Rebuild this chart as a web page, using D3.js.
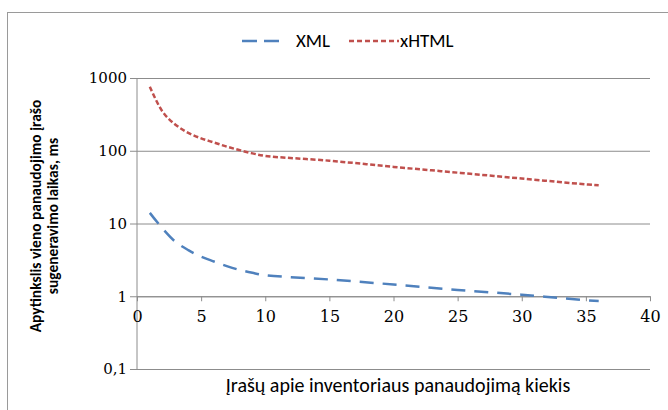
<!DOCTYPE html>
<html>
<head>
<meta charset="utf-8">
<script src="https://cdn.jsdelivr.net/npm/d3@7"></script>
<style>
  body { margin: 0; background: #fff; }
  .grid line { stroke: #8c8c8c; stroke-width: 1; }
  .grid text { font-family: "DejaVu Serif", "Liberation Serif", serif; fill: #000; }
</style>
</head>
<body>
<div class="chart"></div>
<script>

const FRAME_WIDTH = 668;
const FRAME_HEIGHT = 410;
const MARGINS = {left: 137, right: 18, top: 78, bottom: 41};

// data
const X_VALUES = [1, 2, 3, 4, 5, 6, 7, 8, 9, 10, 15, 20, 25, 30, 35, 36];
const XML_VALUES = [14, 8.5, 5.6, 4.3, 3.5, 3.0, 2.6, 2.3, 2.1, 1.95, 1.7, 1.45, 1.22, 1.05, 0.88, 0.86];
const XHTML_VALUES = [760, 343, 228, 176, 148, 130, 114, 102, 92, 85, 73, 60, 50, 41.5, 34.5, 33.5];
const X_TICKS = [0, 5, 10, 15, 20, 25, 30, 35, 40];
const Y_TICKS = [0.1, 1, 10, 100, 1000];
const SERIES_NAMES = ["XML", "xHTML"];

const PLOT_WIDTH = FRAME_WIDTH - MARGINS.left - MARGINS.right;
const PLOT_HEIGHT = FRAME_HEIGHT - MARGINS.top - MARGINS.bottom;
const SANS = "Carlito, 'Liberation Sans', sans-serif";

const FRAME = d3.select(".chart")
    .append("svg")
    .attr("width", FRAME_WIDTH)
    .attr("height", FRAME_HEIGHT);

// outer border of the chart area (runs off the right and bottom)
FRAME.append("rect")
    .attr("x", 7.5).attr("y", 12.5)
    .attr("width", 700).attr("height", 430)
    .attr("fill", "none")
    .attr("stroke", "#9a9a9a");

const X_SCALE = d3.scaleLinear().domain([0, 40]).range([0, PLOT_WIDTH]);
const Y_SCALE = d3.scaleLog().domain([0.1, 1000]).range([PLOT_HEIGHT, 0]);

const G = FRAME.append("g")
    .attr("transform", "translate(" + MARGINS.left + "," + MARGINS.top + ")");

// horizontal gridlines + y labels
const yAxis = G.append("g")
    .attr("class", "grid")
    .call(d3.axisLeft(Y_SCALE)
        .tickValues(Y_TICKS)
        .tickSize(-PLOT_WIDTH)
        .tickSizeOuter(0)
        .tickPadding(10)
        .tickFormat((d) => String(d).replace(".", ",")));
yAxis.attr("font-size", 15);
yAxis.select(".domain").remove();
yAxis.selectAll(".tick line").attr("x1", -7);

// vertical axis line
G.append("line")
    .attr("x1", 0).attr("x2", 0)
    .attr("y1", 0).attr("y2", PLOT_HEIGHT)
    .attr("stroke", "#8c8c8c");

// x axis sits on the value 1
const xAxis = G.append("g")
    .attr("class", "grid")
    .attr("transform", "translate(0," + Y_SCALE(1) + ")")
    .call(d3.axisBottom(X_SCALE)
        .tickValues(X_TICKS)
        .tickSize(5)
        .tickSizeOuter(0)
        .tickPadding(9));
xAxis.attr("font-size", 16);
xAxis.select(".domain").attr("stroke", "#8c8c8c");

const xmlData = X_VALUES.map((x, i) => ({x: x, y: XML_VALUES[i]}));
const xhtmlData = X_VALUES.map((x, i) => ({x: x, y: XHTML_VALUES[i]}));

const LINE = d3.line()
    .x((d) => X_SCALE(d.x))
    .y((d) => Y_SCALE(d.y))
    .curve(d3.curveCatmullRom.alpha(0.5));

G.append("path")
    .datum(xhtmlData)
    .attr("d", LINE)
    .attr("fill", "none")
    .attr("stroke", "#c0504d")
    .attr("stroke-width", 2.5)
    .attr("stroke-dasharray", "5,2.5");

G.append("path")
    .datum(xmlData)
    .attr("d", LINE)
    .attr("fill", "none")
    .attr("stroke", "#4f81bd")
    .attr("stroke-width", 2.5)
    .attr("stroke-dasharray", "14,9");

// legend
const LEGEND = FRAME.append("g")
    .attr("font-family", SANS)
    .attr("font-size", 19);
LEGEND.append("line")
    .attr("x1", 242).attr("x2", 285).attr("y1", 41).attr("y2", 41)
    .attr("stroke", "#4f81bd").attr("stroke-width", 2.5)
    .attr("stroke-dasharray", "15,7");
LEGEND.append("text")
    .attr("x", 296).attr("y", 47)
    .text(SERIES_NAMES[0]);
LEGEND.append("line")
    .attr("x1", 349).attr("x2", 399).attr("y1", 41).attr("y2", 41)
    .attr("stroke", "#c0504d").attr("stroke-width", 2.5)
    .attr("stroke-dasharray", "5,3");
LEGEND.append("text")
    .attr("x", 400).attr("y", 47)
    .text(SERIES_NAMES[1]);

// axis titles
FRAME.append("text")
    .attr("x", 398).attr("y", 392)
    .attr("text-anchor", "middle")
    .attr("font-family", SANS)
    .attr("font-size", 20)
    .text("Įrašų apie inventoriaus panaudojimą kiekis");

const YT = FRAME.append("text")
    .attr("transform", "translate(41,216) rotate(-90)")
    .attr("text-anchor", "middle")
    .attr("font-family", SANS)
    .attr("font-size", 15.5)
    .attr("font-weight", "bold");
YT.append("tspan").attr("x", 0).attr("y", 0).text("Apytinkslis vieno panaudojimo įrašo");
YT.append("tspan").attr("x", 0).attr("y", 17).text("sugeneravimo laikas, ms");

</script>
</body>
</html>
